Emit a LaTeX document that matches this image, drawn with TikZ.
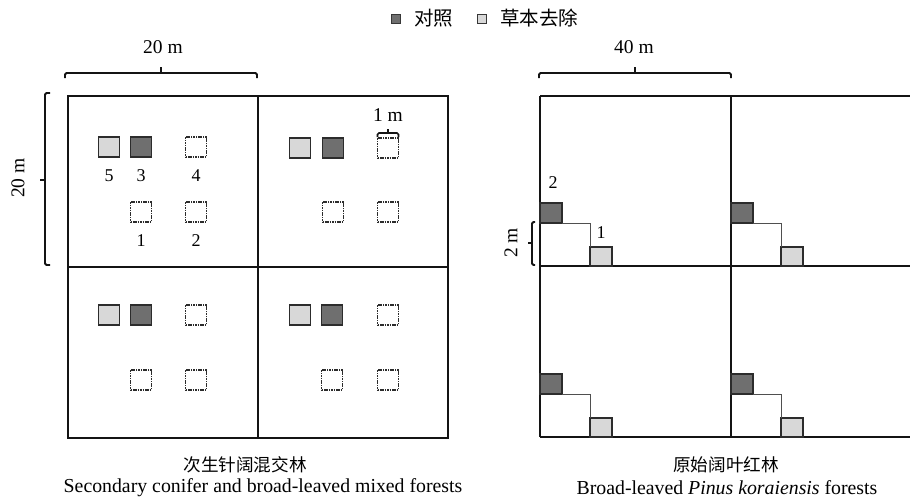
\documentclass[tikz,border=0pt]{standalone}
\usepackage{fontspec}
\setmainfont{Liberation Serif}
\newfontfamily\cjk{Noto Sans CJK SC}
\usetikzlibrary{calc}
\definecolor{darkq}{HTML}{6F6F6F}
\definecolor{lightq}{HTML}{D8D8D8}
\definecolor{ink}{HTML}{141414}
\begin{document}
\begin{tikzpicture}[x=1pt,y=-1pt,
  frame/.style={draw=ink, line width=1.8pt},
  gridline/.style={draw=ink, line width=1.8pt},
  sq/.style={minimum width=21pt, minimum height=20pt, inner sep=0pt, outer sep=0pt},
  darksq/.style={sq, fill=darkq, draw=ink!90, line width=1.2pt},
  lightsq/.style={sq, fill=lightq, draw=ink!90, line width=1.2pt},
  dashsq/.style={sq, draw=ink!90, line width=1.2pt, dash pattern=on 1.6pt off 0.8pt},
  bracket/.style={draw=ink, line width=1.8pt, rounded corners=1.5pt},
  tick/.style={draw=ink, line width=1.8pt},
  num/.style={font=\fontsize{18}{20}\selectfont, inner sep=0pt},
  dim/.style={font=\fontsize{19.5}{21}\selectfont, inner sep=0pt},
  cjktext/.style={font=\cjk\fontsize{17.6}{20}\selectfont, inner sep=0pt},
  legtext/.style={anchor=west, font=\cjk\fontsize{19.5}{21}\selectfont, inner sep=0pt},
  stair/.style={draw=ink!75, line width=0.9pt},
  legsq/.style={minimum size=8.5pt, inner sep=0pt, draw=ink!85, line width=0.8pt}
]
\useasboundingbox (0,0) rectangle (910,498);

% ---------------- legend ----------------
\node[legsq, fill=darkq] (lgd) at (396,19) {};
\node[legtext] (lgdt) at (414,18) {对照};
\node[legsq, fill=lightq] (lgl) at (482,19) {};
\node[legtext] (lglt) at (500,18) {草本去除};

% ---------------- left plot ----------------
\node[frame, anchor=north west, minimum width=380pt, minimum height=342pt, inner sep=0pt] (L) at (67,95) {};
\draw[gridline] (L.north) -- (L.south);
\draw[gridline] (L.west) -- (L.east);

% top-left cell
\node[lightsq] (a5) at (109,147) {};
\node[darksq]  (a3) at (141,147) {};
\node[dashsq]  (a4) at (196,147) {};
\node[dashsq]  (a1) at (141,212) {};
\node[dashsq]  (a2) at (196,212) {};
\node[num] (n5) at (109,176) {5};
\node[num] (n3) at (141,176) {3};
\node[num] (n4) at (196,176) {4};
\node[num] (n1) at (141,241) {1};
\node[num] (n2) at (196,241) {2};

% top-right cell
\node[lightsq] (b5) at (300,148) {};
\node[darksq]  (b3) at (333,148) {};
\node[dashsq]  (b4) at (388,148) {};
\node[dashsq]  (b1) at (333,212) {};
\node[dashsq]  (b2) at (388,212) {};

% bottom-left cell
\node[lightsq] (c5) at (109,315) {};
\node[darksq]  (c3) at (141,315) {};
\node[dashsq]  (c4) at (196,315) {};
\node[dashsq]  (c1) at (141,380) {};
\node[dashsq]  (c2) at (196,380) {};

% bottom-right cell
\node[lightsq] (d5) at (300,315) {};
\node[darksq]  (d3) at (332,315) {};
\node[dashsq]  (d4) at (388,315) {};
\node[dashsq]  (d1) at (332,380) {};
\node[dashsq]  (d2) at (388,380) {};

% 1 m bracket
\draw[bracket, line width=1.6pt] ($(b4.north west)+(0,-1)$) -- ++(0,-4) -- ($(b4.north east)+(0,-5)$) -- ++(0,4);
\coordinate (b4m) at ($(b4.north)+(0,-5)$);
\draw[tick, line width=1.6pt] (b4m) -- ++(0,-4);
\node[dim] (onem) at (388,115) {1 m};

% 20 m brackets
\draw[bracket] (65,78) -- (65,73) -- (257,73) -- (257,78);
\draw[tick] (161,73) -- (161,67);
\node[dim] (twentyx) at (163,47) {20 m};
\draw[bracket] (50,93) -- (45,93) -- (45,265) -- (50,265);
\draw[tick] (45,180) -- (40,180);
\node[dim, rotate=90] (twentyy) at (18,178) {20 m};

% titles
\node[cjktext] (tl1) at (245,465) {次生针阔混交林};
\node[font=\fontsize{19.8}{21}\selectfont, inner sep=0pt] (tl2) at (263,488) {Secondary conifer and broad-leaved mixed forests};

% ---------------- right plot ----------------
\draw[gridline] (540,96) -- (910,96);
\draw[gridline] (540,266) -- (910,266);
\draw[gridline] (540,437) -- (910,437);
\draw[gridline] (540,96) -- (540,437);
\draw[gridline] (731,96) -- (731,437);

% stair units
\foreach \ox/\oy/\nm in {540/266/p, 731/266/q, 540/437/r, 731/437/s}{
  \node[darksq, minimum width=22pt, minimum height=20pt, anchor=south west] (\nm d) at (\ox,\oy-43) {};
  \node[lightsq, minimum width=22pt, minimum height=19pt, anchor=south west] (\nm l) at (\ox+50,\oy) {};
  \draw[stair] (\nm d.south east) -- (\nm l.north west |- \nm d.south east) -- (\nm l.north west);
}
\node[num] (m2) at (553,183) {2};
\node[num] (m1) at (601,233) {1};

% 40 m bracket
\draw[bracket] (539,78) -- (539,73) -- (731,73) -- (731,78);
\draw[tick] (635,73) -- (635,67);
\node[dim] (fortyx) at (634,47) {40 m};

% 2 m bracket
\draw[bracket] (535,222) -- (532,222) -- (532,265) -- (535,265);
\draw[tick] (532,243) -- (528,243);
\node[dim, rotate=90] (twomy) at (511,243) {2 m};

% titles
\node[cjktext] (tr1) at (726,465) {原始阔叶红林};
\node[font=\fontsize{19.8}{21}\selectfont, inner sep=0pt] (tr2) at (727,488) {Broad-leaved \textit{Pinus koraiensis} forests};
\end{tikzpicture}
\end{document}
